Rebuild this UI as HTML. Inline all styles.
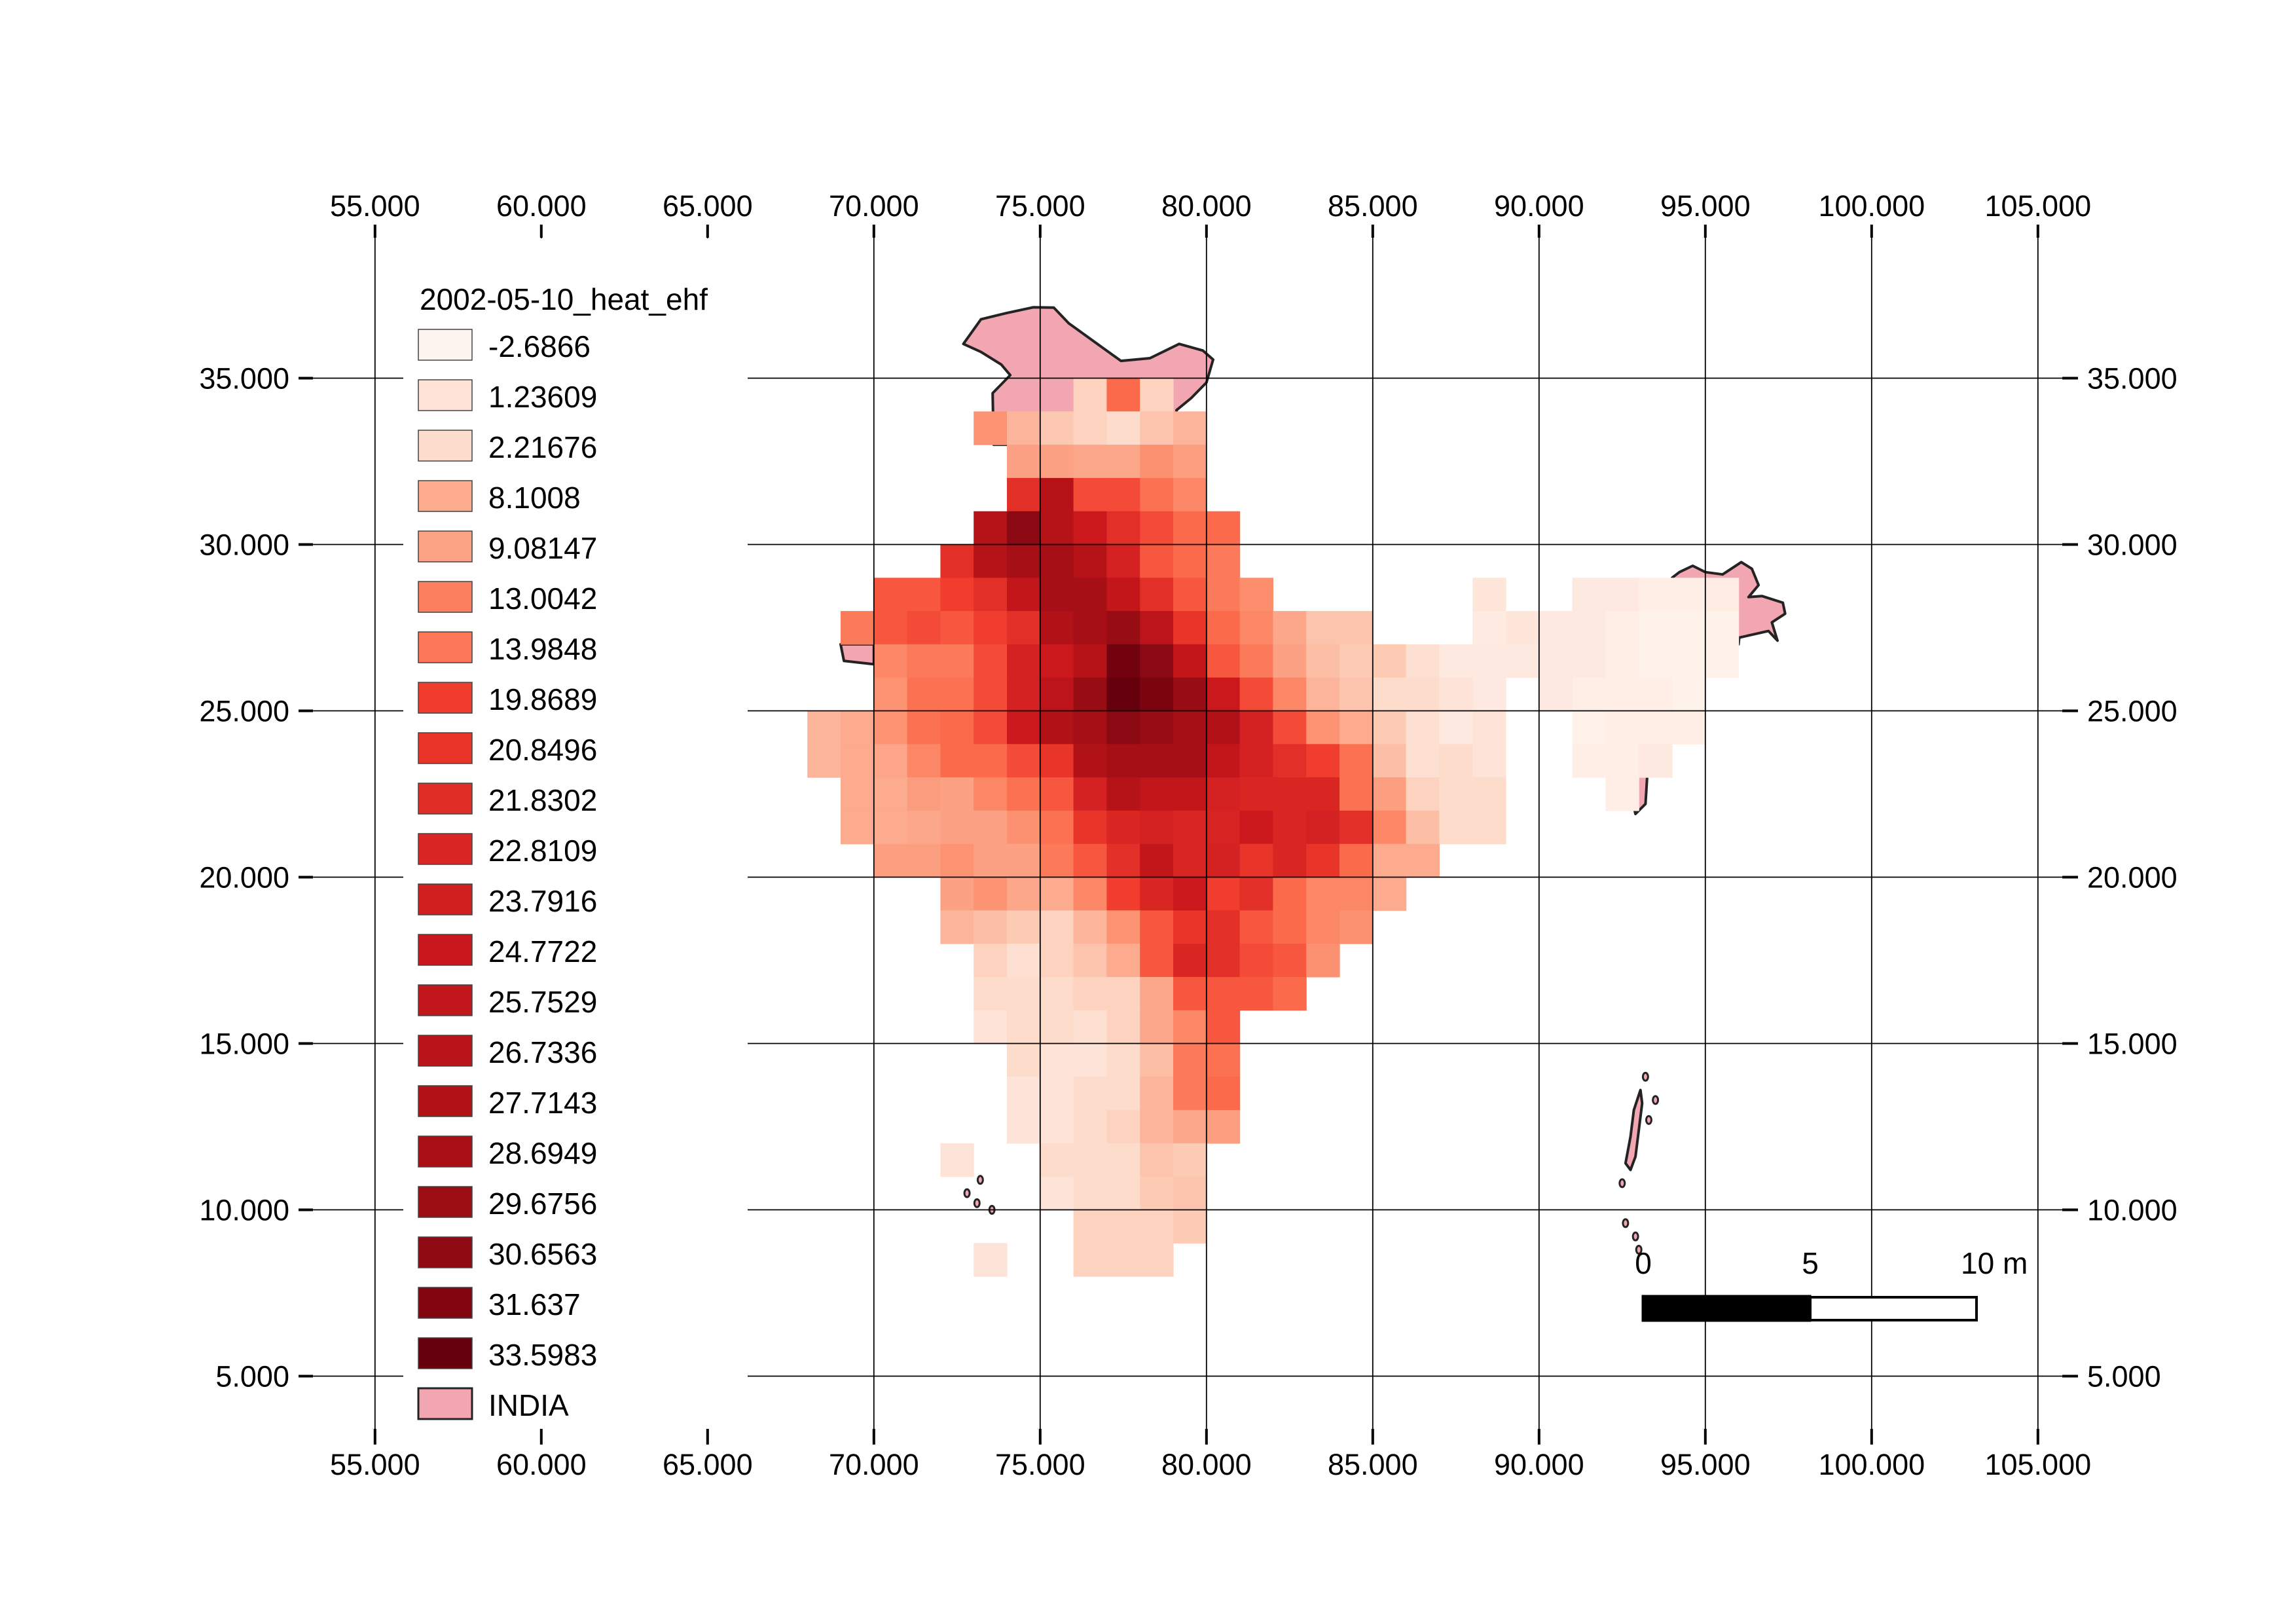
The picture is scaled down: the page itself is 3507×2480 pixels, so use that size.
<!DOCTYPE html>
<html><head><meta charset="utf-8"><title>2002-05-10_heat_ehf</title>
<style>
html,body{margin:0;padding:0;background:#fff;}
svg{display:block;font-family:"Liberation Sans",sans-serif;}
</style></head>
<body>
<svg id="map" width="3507" height="2480" viewBox="0 0 3507 2480" xmlns="http://www.w3.org/2000/svg">
<rect x="0" y="0" width="3507" height="2480" fill="#fff"/>
<g id="outlines"></g>
<g id="cells"></g>
<g id="grid"></g>
<g id="legend"></g>
<g id="scalebar"></g>
</svg>
<script>
// ---- data ----
const rowLats = [34,33,32,31,30,29,28,27,26,25,24,23,22,21,20,19,18,17,16,15,14,13,12,11,10,9,8];
const rowStarts = [76,73,74,74,73,72,70,69,70,70,68,68,69,69,70,72,72,73,73,73,74,74,74,72,75,76,73];
const rowValues = [
 [3.5,15.5,3.5],
 [10.7,7.1,4.8,3.6,2.4,5.3,7.1],
 [9.3,9.3,8.6,8.6,11,9.5],
 [21.6,27,18.4,18.4,14.7,12.2],
 [27,31,27,24.5,21.6,18.4,15.5,15.5],
 [21.6,27,29,29,27,23.4,17.3,15.5,13.6],
 [17.3,17.3,19.8,21.6,25.6,29,29,25.6,21.6,17.3,13.6,11.5,null,null,null,null,null,null,0.6,null,null,-0.2,-0.2,-1.2,-1.2,-0.9],
 [13.6,17.3,18.4,17.3,19.8,21.6,27.8,29,30,26.3,20.9,15.5,12.2,8.6,5.3,5.3,null,null,null,-0.5,0.6,-0.2,-0.2,-1.2,-2,-2,-2],
 [12.2,13.6,13.6,18.4,23.4,24.5,27,32.9,31,25.6,17.3,13.6,9.3,6,4.6,4.6,1.8,-0.2,-0.2,-0.2,-0.2,-0.2,-1.2,-2,-2,-2],
 [10.7,14.7,14.7,18.4,23.4,26.3,30,33.6,32.2,30,24.5,18.4,12.2,7.1,5.3,2.4,2.4,1,-0.2,null,-0.2,-1.2,-1.2,-1.2,-2],
 [7.1,8.2,10.7,14.7,15.5,18.4,24.5,27.8,29,31,30,29,27.8,23.4,18.4,10.7,8.2,4.6,1.8,-0.2,1,null,null,-2,-1.2,-1.2,-1.2],
 [7.1,8.2,8.8,12.2,15.5,15.5,18.4,20.9,27.8,29,29,29,25.6,23.4,21.6,19.8,14.7,6,1.8,2.4,1,null,null,-1.2,-1.2,-0.2],
 [8.2,8.2,9.8,9.3,12.2,14.7,17.3,23.4,27,25.6,25.6,23.4,22.7,22.7,22.7,14.7,9.6,3.5,2.4,2.4,null,null,null,-1.2],
 [8.2,8.2,8.6,9.3,9.3,11,14.7,20.9,22.7,23.4,22.7,23,24.5,22.7,23.4,21.6,12.2,6,2.4,2.4],
 [9.6,9.6,10.7,9.3,9.3,13.6,17.3,21.6,25.6,22.7,23.4,20.9,22.7,20.9,15.5,8.2,8.2],
 [9.3,10.7,8.6,8.2,12.2,19.8,22.7,24.5,19.8,21.6,15.5,12.2,12.2,8.2],
 [7.1,6,4.6,3.5,7.1,10.7,17.3,20.9,21.6,17.3,15.5,12.2,11],
 [3.5,1.8,3.5,5.3,8.2,17.3,22.7,21.6,18.4,17.3,11],
 [2.4,2.4,2.4,3.5,3.5,8.6,17.3,17.3,17.3,15.5],
 [1,2.4,2.4,1.8,3.5,8.6,12.2,17.3],
 [2.4,1,1,2.4,6,13.6,14.7],
 [1,1,2.4,2.4,7.1,13.6,15.5],
 [1,1,2.4,3.5,7.1,8.6,9.6],
 [1,null,null,2.4,2.4,2.4,5.3,4.6],
 [1,2.4,2.4,4.6,5.3],
 [3.5,3.5,3.5,4.6],
 [1,null,null,3.5,3.5,3.5]
];
const legendValues = ["-2.6866","1.23609","2.21676","8.1008","9.08147","13.0042","13.9848","19.8689","20.8496","21.8302","22.8109","23.7916","24.7722","25.7529","26.7336","27.7143","28.6949","29.6756","30.6563","31.637","33.5983"];
const lonTicks = [55,60,65,70,75,80,85,90,95,100,105];
const latTicks = [35,30,25,20,15,10,5];
const kashmir = [[72.69,36.03],[73.22,36.77],[74.0,36.96],[74.79,37.13],[75.41,37.12],[75.86,36.65],[76.72,36.03],[77.43,35.52],[78.3,35.6],[79.18,36.03],[79.89,35.83],[80.2,35.56],[80.0,34.87],[79.54,34.4],[79.1,34.04],[79.1,33],[73.6,33],[73.57,34.55],[74.1,35.09],[73.83,35.41],[73.22,35.79]];
const northeast = [[94.22,29.17],[94.62,29.36],[95.0,29.17],[95.52,29.1],[96.08,29.47],[96.4,29.27],[96.6,28.78],[96.3,28.42],[96.7,28.45],[97.33,28.25],[97.4,27.92],[97.0,27.66],[97.17,27.11],[96.9,27.4],[96.02,27.2],[96,27],[94,27],[94,29]];
const mizoram = [[92.7,24],[93.2,24],[93.25,23],[93.2,22.2],[92.9,21.9],[92.8,22.3]];
const gujarat = [[69.0,27],[70,27],[70,26.4],[69.1,26.5]];
const andaman = [[93.05,13.6],[93.1,13.2],[93.0,12.4],[92.9,11.6],[92.75,11.2],[92.6,11.4],[92.75,12.2],[92.85,13.0]];
const islands = [[93.2,14.0],[93.5,13.3],[93.3,12.7],[92.5,10.8],[92.6,9.6],[92.9,9.2],[93.0,8.8],[73.2,10.9],[72.8,10.5],[73.1,10.2],[73.55,10.0]];

// ---- scales ----
const NS='http://www.w3.org/2000/svg';
function X(lon){return 572.8+(lon-55)*50.8;}
function Y(lat){return 577.5+(35-lat)*50.8;}
const vmin=-2.6866, vmax=33.5983;
const stops=["#fff5f0","#fee0d2","#fcbba1","#fc9272","#fb6a4a","#ef3b2c","#cb181d","#a50f15","#67000d"];
function hex(c){return [parseInt(c.slice(1,3),16),parseInt(c.slice(3,5),16),parseInt(c.slice(5,7),16)];}
function color(v){
  let t=(v-vmin)/(vmax-vmin); t=Math.max(0,Math.min(1,t));
  const p=t*(stops.length-1); const i=Math.min(stops.length-2,Math.floor(p)); const f=p-i;
  const a=hex(stops[i]), b=hex(stops[i+1]);
  return 'rgb('+a.map((x,k)=>Math.round(x+(b[k]-x)*f)).join(',')+')';
}
function mk(tag,attrs,parent){const e=document.createElementNS(NS,tag);for(const k in attrs)e.setAttribute(k,attrs[k]);parent.appendChild(e);return e;}
function pts(arr){return arr.map(p=>X(p[0]).toFixed(1)+','+Y(p[1]).toFixed(1)).join(' ');}

// ---- outlines ----
const gO=document.getElementById('outlines');
[[kashmir,'kashmir-region'],[northeast,'northeast-region'],[mizoram,'mizoram-region'],[gujarat,'gujarat-edge'],[andaman,'andaman-islands']].forEach(function(d){
  const p=mk('polygon',{points:pts(d[0]),fill:'#f2a6b1',stroke:'#232323','stroke-width':4,'stroke-linejoin':'round'},gO);
  
  
});
islands.forEach(function(p){
  const c=mk('ellipse',{cx:X(p[0]),cy:Y(p[1]),rx:4,ry:6,fill:'#f2a6b1',stroke:'#232323','stroke-width':3},gO);
  
  
});

// ---- cells ----
const gC=document.getElementById('cells');
rowLats.forEach(function(lat,r){
  rowValues[r].forEach(function(v,j){
    if(v===null) return;
    const lon=rowStarts[r]+j;
    const x0=X(lon), x1=X(lon+1), y0=Y(lat+1), y1=Y(lat);
    const el=mk('rect',{x:x0.toFixed(1),y:y0.toFixed(1),width:(x1-x0+0.6).toFixed(1),height:(y1-y0+0.6).toFixed(1),fill:color(v)},gC);
    
    
  });
});

// ---- graticule ----
const gG=document.getElementById('grid');
lonTicks.forEach(function(lon){
  const x=X(lon);
  const l=mk('line',{x1:x,y1:363,x2:x,y2:2182,stroke:'#000','stroke-width':1.8},gG);
  
  
  mk('line',{x1:x,y1:343,x2:x,y2:363,stroke:'#000','stroke-width':4},gG);
  mk('line',{x1:x,y1:2182,x2:x,y2:2206,stroke:'#000','stroke-width':4},gG);
  const t1=mk('text',{x:x,y:330,'font-size':45,'text-anchor':'middle',fill:'#000'},gG);
  t1.textContent=lon.toFixed(3);
  
  
  const t2=mk('text',{x:x,y:2252,'font-size':45,'text-anchor':'middle',fill:'#000'},gG);
  t2.textContent=lon.toFixed(3);
  
  
});
latTicks.forEach(function(lat){
  const y=Y(lat);
  const l=mk('line',{x1:478,y1:y,x2:3150,y2:y,stroke:'#000','stroke-width':1.8},gG);
  
  
  mk('line',{x1:456,y1:y,x2:478,y2:y,stroke:'#000','stroke-width':4},gG);
  mk('line',{x1:3150,y1:y,x2:3174,y2:y,stroke:'#000','stroke-width':4},gG);
  const t1=mk('text',{x:442,y:y+16,'font-size':45,'text-anchor':'end',fill:'#000'},gG);
  t1.textContent=lat.toFixed(3);
  
  
  const t2=mk('text',{x:3188,y:y+16,'font-size':45,'text-anchor':'start',fill:'#000'},gG);
  t2.textContent=lat.toFixed(3);
  
  
});

// ---- legend ----
const gL=document.getElementById('legend');
const bg=mk('rect',{x:616,y:364,width:526,height:1818,fill:'#fff'},gL);


const title=mk('text',{x:641,y:473,'font-size':46,fill:'#000'},gL);
title.textContent='2002-05-10_heat_ehf';


const entries=legendValues.concat(['INDIA']);
entries.forEach(function(lab,i){
  const y=503+i*77;
  const isIndia=(lab==='INDIA');
  const sw=mk('rect',{x:639,y:y,width:82,height:47,fill:isIndia?'#f2a6b1':color(parseFloat(lab)),stroke:isIndia?'#232323':'#444','stroke-width':isIndia?3:1.5},gL);
  
  
  const t=mk('text',{x:746,y:y+42,'font-size':46,fill:'#000'},gL);
  t.textContent=lab;
  
  
});

// ---- scale bar ----
const gS=document.getElementById('scalebar');
const b1=mk('rect',{x:2509,y:1979,width:256,height:38,fill:'#000',stroke:'#000','stroke-width':3},gS);


const b2=mk('rect',{x:2765,y:1981,width:254,height:35,fill:'#fff',stroke:'#000','stroke-width':4},gS);


[['0',2510,'middle'],['5',2765,'middle'],['10 m',2995,'start']].forEach(function(d){
  const t=mk('text',{x:d[1],y:1945,'font-size':46,'text-anchor':d[2],fill:'#000'},gS);
  t.textContent=d[0];
  
  
});
</script>
</body></html>
